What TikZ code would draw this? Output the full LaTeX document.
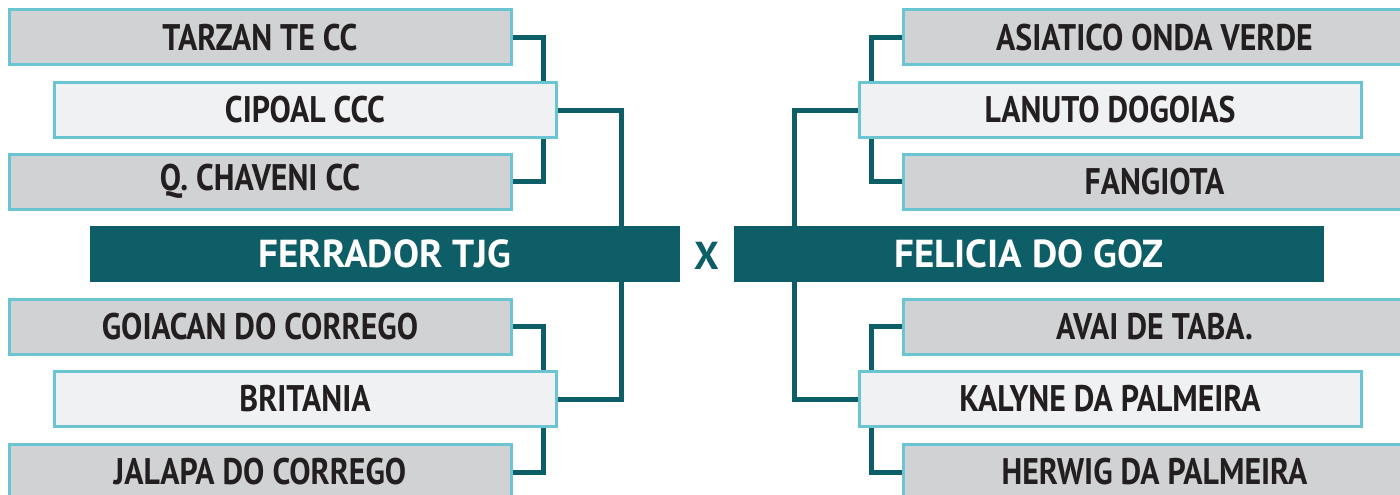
\documentclass[tikz,border=0pt]{standalone}
\usepackage{fontspec}
\newfontfamily\boxfont[FakeStretch=0.86]{PT Sans}
\newfontfamily\barfont{PT Sans}
\definecolor{teal}{HTML}{0E5E68}
\definecolor{cyanb}{HTML}{6BC4D2}
\definecolor{grayf}{HTML}{D1D2D4}
\definecolor{lightf}{HTML}{F0F1F3}
\definecolor{txt}{HTML}{231F20}
\pgfdeclarelayer{background}
\pgfsetlayers{background,main}
\tikzset{
  team/.style={draw=cyanb, line width=3pt, fill=grayf, minimum width=502pt, minimum height=55pt,
    inner sep=0pt, text=txt, font=\boxfont\bfseries\fontsize{37}{37}\selectfont},
  seed/.style={team, fill=lightf},
  winner/.style={fill=teal, minimum width=590pt, minimum height=56pt, inner sep=0pt,
    text=white, font=\barfont\bfseries\fontsize{39}{39}\selectfont},
  conn/.style={draw=teal, line width=5pt, line join=miter}
}
\begin{document}
\begin{tikzpicture}[x=1pt,y=-1pt]
\useasboundingbox (0,0) rectangle (1400,495);
\clip (0,0) rectangle (1400,495);
% left side
\node[team] (tarzan) at (260,37.5) {TARZAN TE CC};
\node[seed] (cipoal) at (305,110) {CIPOAL CCC};
\node[team] (qchav) at (260,181.5) {Q. CHAVENI CC};
\node[winner] (ferr) at (385,254) {FERRADOR TJG};
\node[team] (goiac) at (260,326.5) {GOIACAN DO CORREGO};
\node[seed] (brit) at (305,399) {BRITANIA};
\node[team] (jalapa) at (260,472) {JALAPA DO CORREGO};
% right side
\node[team] (asiat) at (1154.5,37.5) {ASIATICO ONDA VERDE};
\node[seed] (lanuto) at (1110,110) {LANUTO DOGOIAS};
\node[team] (fang) at (1154.5,181.5) {FANGIOTA};
\node[winner] (felic) at (1029,254) {FELICIA DO GOZ};
\node[team] (avai) at (1154.5,326.5) {AVAI DE TABA.};
\node[seed] (kalyne) at (1110,399) {KALYNE DA PALMEIRA};
\node[team] (herwig) at (1154.5,472) {HERWIG DA PALMEIRA};
\node[text=teal, inner sep=0pt, font=\barfont\bfseries\fontsize{39}{39}\selectfont] (x) at (707,256) {X};
\begin{pgfonlayer}{background}
\fill[white] (0,0) rectangle (1400,495);
% connectors left
\draw[conn] (tarzan.east) -- ++(31,0) |- (qchav.east);
\draw[conn] (goiac.east) -- ++(31,0) |- (jalapa.east);
\draw[conn] (cipoal.east) -- ++(64,0) coordinate (lt) -- (lt |- ferr.north);
\draw[conn] (brit.east) -- ++(64,0) coordinate (lb) -- (lb |- ferr.south);
% connectors right
\draw[conn] (asiat.west) -- ++(-31,0) |- (fang.west);
\draw[conn] (avai.west) -- ++(-31,0) |- (herwig.west);
\draw[conn] (lanuto.west) -- ++(-63,0) coordinate (rt) -- (rt |- felic.north);
\draw[conn] (kalyne.west) -- ++(-63,0) coordinate (rb) -- (rb |- felic.south);
\end{pgfonlayer}
\end{tikzpicture}
\end{document}
